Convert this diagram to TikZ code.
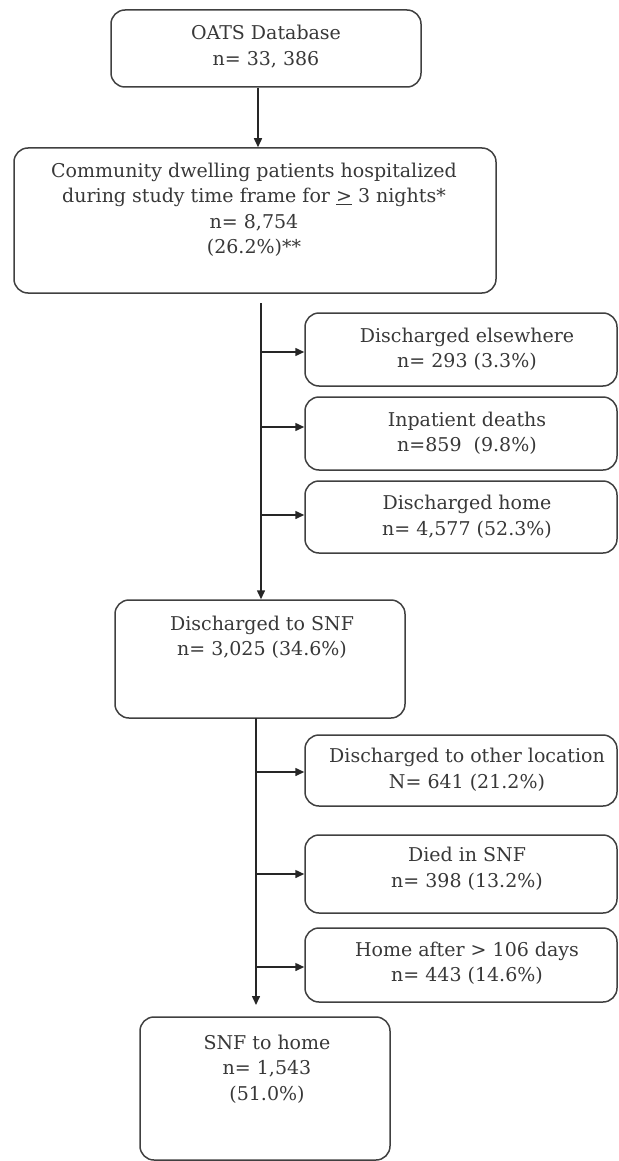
\documentclass[tikz,border=0pt]{standalone}
\usepackage{fontspec}
\setmainfont{DejaVu Serif}
\usetikzlibrary{arrows.meta}
\begin{document}
\begin{tikzpicture}[x=1pt,y=-1pt,
  box/.style={draw=black!75, line width=1.5pt, rounded corners=14pt, inner sep=0pt},
  txt/.style={align=center, text=black!78, font=\fontsize{19}{25.5}\selectfont, inner sep=0pt},
  arr/.style={draw=black!85, line width=1.5pt, -{Triangle[length=9pt,width=8pt]}},
  ln/.style={draw=black!85, line width=1.5pt}]
\useasboundingbox (0,0) rectangle (618,1161);
% main boxes
\node[box, minimum width=310pt, minimum height=77pt] (oats) at (266,48.5) {};
\node[txt] (oatsT) at (266,46.5) {OATS Database\\n= 33, 386};
\node[box, minimum width=482pt, minimum height=145pt] (comm) at (255,220.5) {};
\node[txt] (commT) at (254,210) {Community dwelling patients hospitalized\\during study time frame for \underline{>} 3 nights*\\n= 8,754\\(26.2\%)**};
\node[box, minimum width=290pt, minimum height=118pt] (snf) at (260,659) {};
\node[txt] (snfT) at (262,637.5) {Discharged to SNF\\n= 3,025 (34.6\%)};
\node[box, minimum width=250pt, minimum height=143pt] (home) at (265,1088.5) {};
\node[txt] (homeT) at (267,1069) {SNF to home\\n= 1,543\\(51.0\%)};
% side boxes
\node[box, minimum width=312pt, minimum height=73pt] (a) at (461,349.5) {};
\node[txt] (aT) at (467,349.5) {Discharged elsewhere\\n= 293 (3.3\%)};
\node[box, minimum width=312pt, minimum height=73pt] (b) at (461,433.5) {};
\node[txt] (bT) at (467,433.5) {Inpatient deaths\\n=859~ (9.8\%)};
\node[box, minimum width=312pt, minimum height=72pt] (c) at (461,517) {};
\node[txt] (cT) at (467,517) {Discharged home\\n= 4,577 (52.3\%)};
\node[box, minimum width=312pt, minimum height=71pt] (d) at (461,770.5) {};
\node[txt] (dT) at (467,770) {Discharged to other location\\N= 641 (21.2\%)};
\node[box, minimum width=312pt, minimum height=78pt] (e) at (461,874) {};
\node[txt] (eT) at (467,869) {Died in SNF\\n= 398 (13.2\%)};
\node[box, minimum width=312pt, minimum height=74pt] (f) at (461,965) {};
\node[txt] (fT) at (467,963.5) {Home after > 106 days\\n= 443 (14.6\%)};
% connectors
\coordinate (s1) at (261,303);
\coordinate (s2) at (256,718);
\coordinate (g) at (256,1005);
\draw[arr] (258,0 |- oats.south) -- (258,0 |- comm.north);
\draw[arr] (s1) -- (s1 |- snf.north);
\draw[arr] (s1 |- 0,352) -- (a.west |- 0,352);
\draw[arr] (s1 |- 0,427) -- (b.west |- 0,427);
\draw[arr] (s1 |- 0,515) -- (c.west |- 0,515);
\draw[arr] (s2) -- (g);
\draw[arr] (s2 |- 0,772) -- (d.west |- 0,772);
\draw[arr] (s2 |- 0,874) -- (e.west |- 0,874);
\draw[arr] (s2 |- 0,967) -- (f.west |- 0,967);
\end{tikzpicture}
\end{document}
